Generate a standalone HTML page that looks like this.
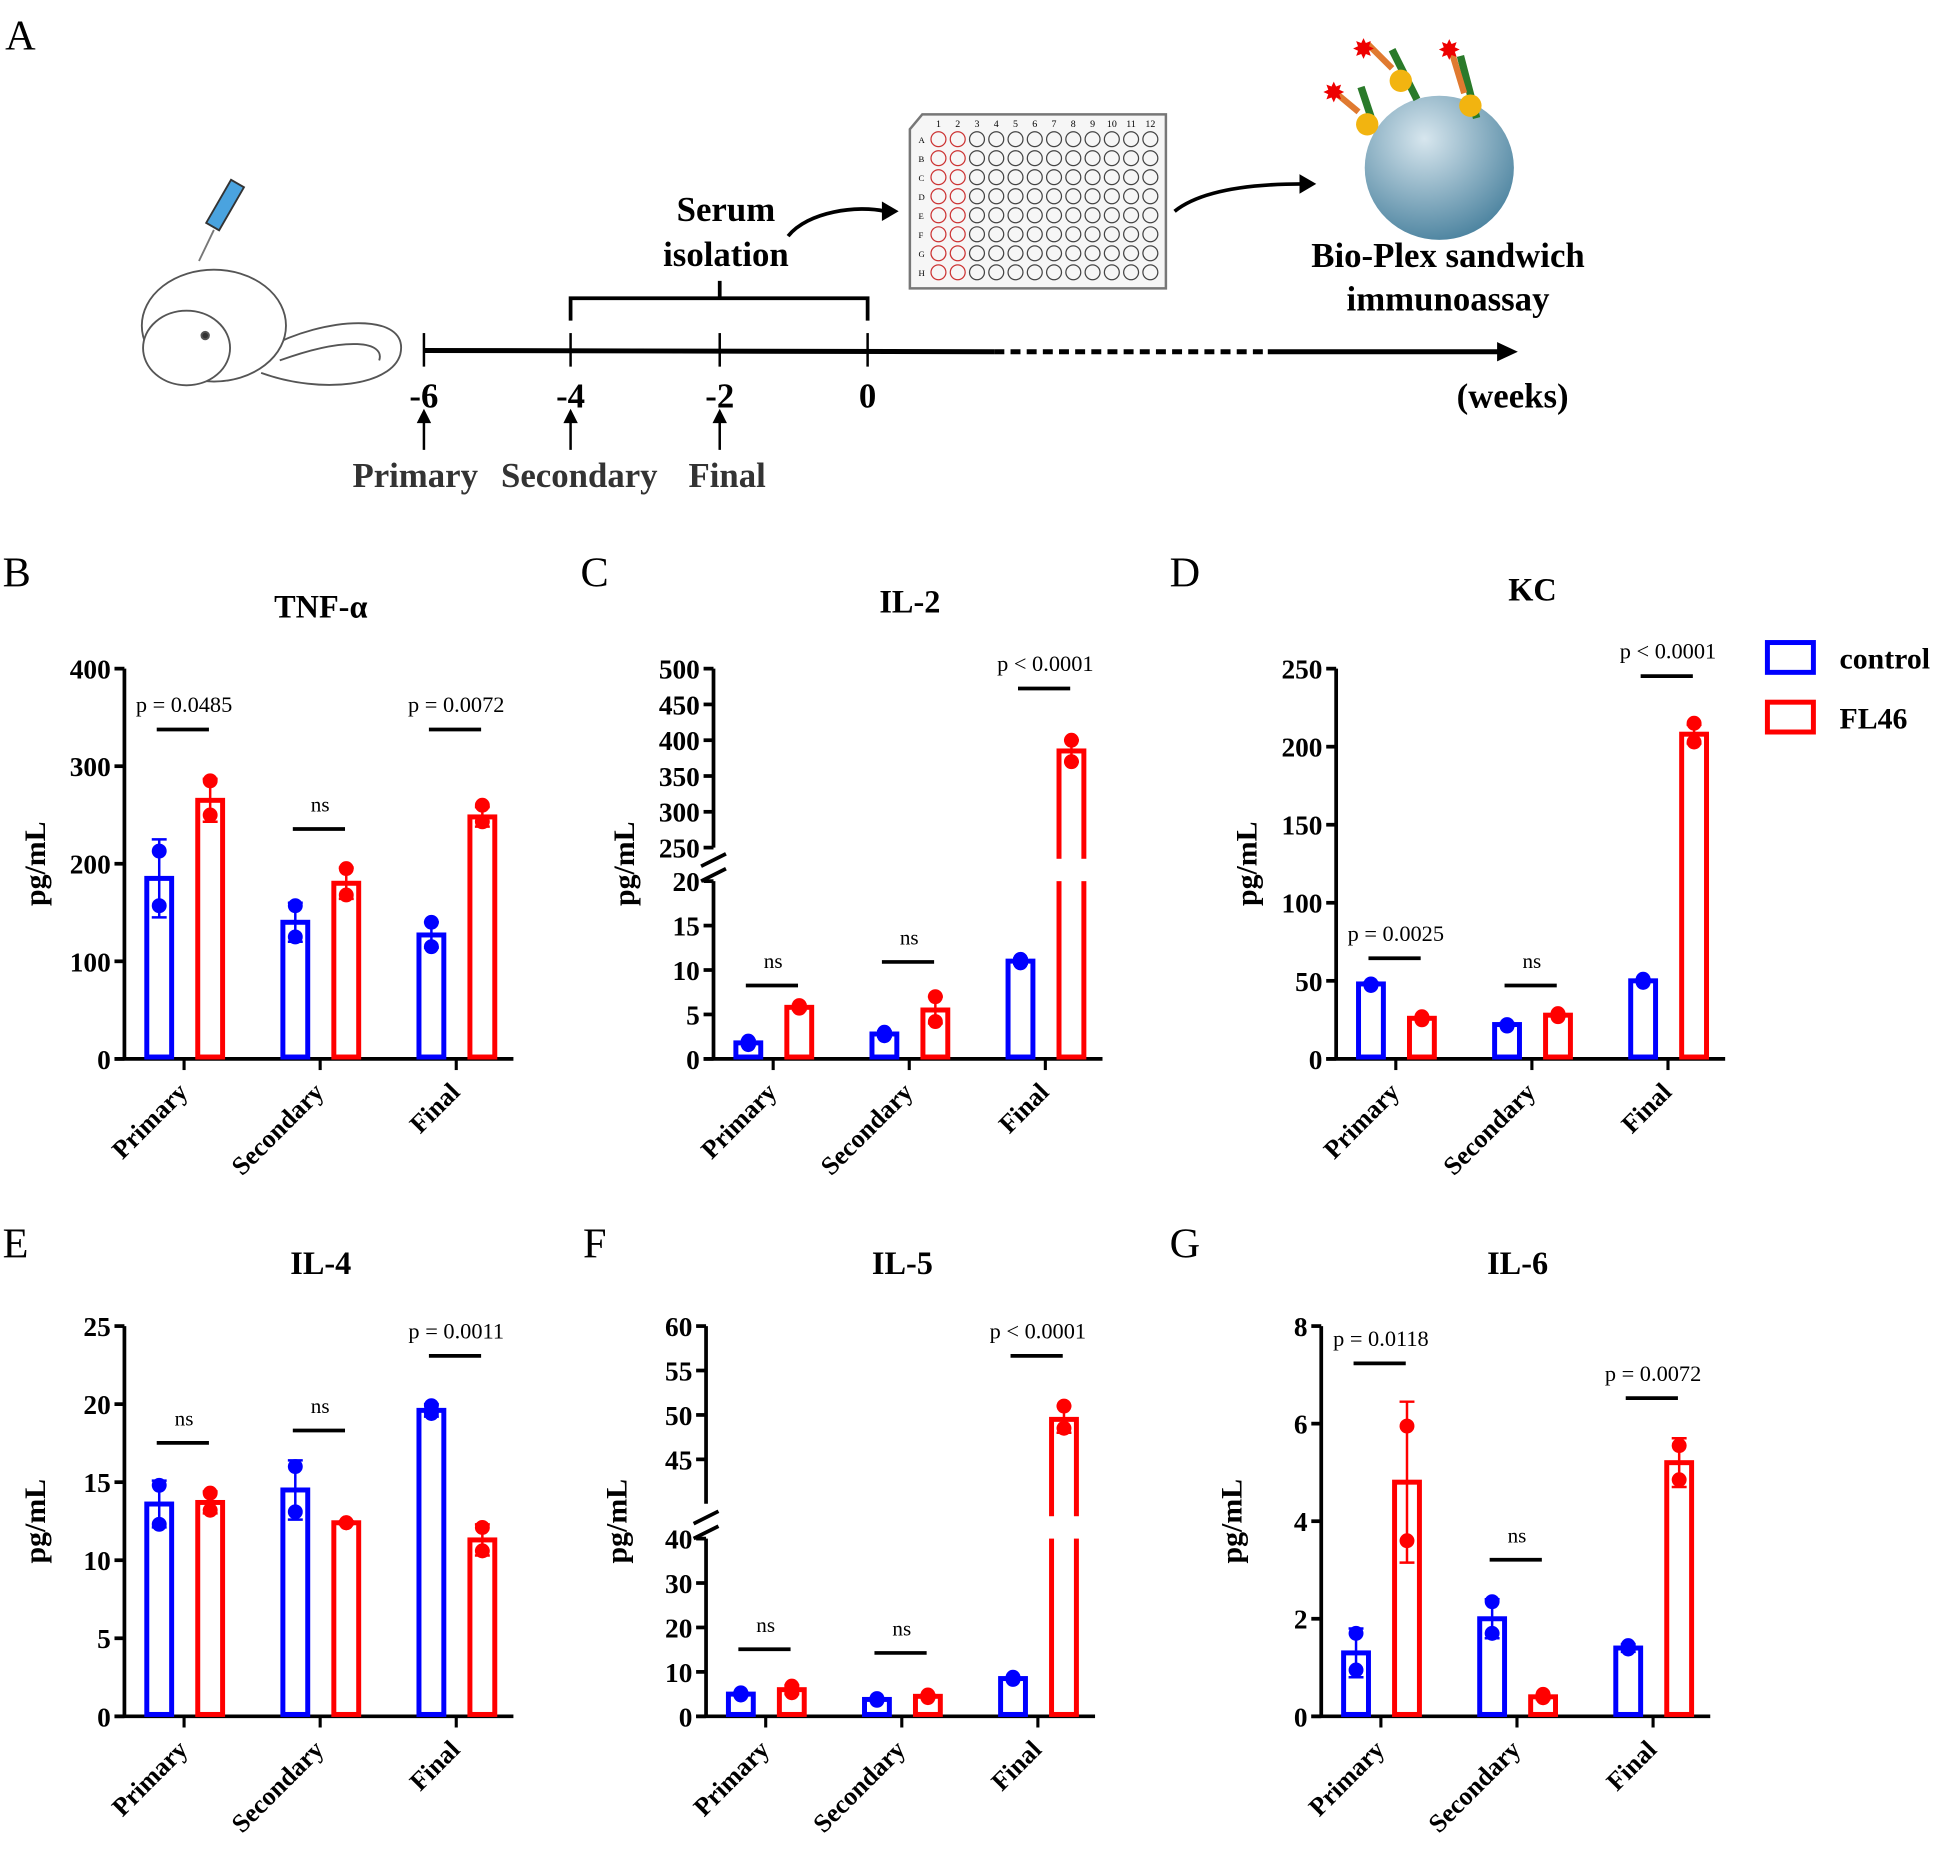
<!DOCTYPE html>
<html><head><meta charset="utf-8"><style>
html,body{margin:0;padding:0;background:#fff;}
svg{display:block;font-family:"Liberation Serif",serif;}
</style></head><body>
<svg id="fig" width="1949" height="1858" viewBox="0 0 1568 1495" xmlns="http://www.w3.org/2000/svg">
<g>
<text x="4" y="40" font-size="34">A</text>
<g fill="#fff" stroke="#555" stroke-width="1.5">
<path d="M215 280 C260 255 330 250 322 285 C315 310 260 318 210 300" fill="none"/>
<path d="M225 290 C280 270 310 275 305 290" fill="none"/>
<ellipse cx="172" cy="262" rx="58" ry="45"/>
<ellipse cx="150" cy="280" rx="35" ry="30"/>
<circle cx="165" cy="270" r="3" fill="#333"/>
<rect x="175" y="145" width="12" height="40" transform="rotate(30 181 165)" fill="#4aa3df" stroke="#333"/>
<line x1="172" y1="185" x2="160" y2="210" stroke="#777"/>
</g>
<g stroke="#000">
<line x1="341" y1="282" x2="800" y2="283" stroke-width="4"/>
<line x1="800" y1="283" x2="1020" y2="283" stroke-width="4" stroke-dasharray="8 5"/>
<line x1="1020" y1="283" x2="1208" y2="283" stroke-width="4"/>
<polygon points="1205,276 1220,283 1205,290" fill="#000"/>
<line x1="341" y1="268" x2="341" y2="295" stroke-width="2"/>
<line x1="459" y1="268" x2="459" y2="295" stroke-width="2"/>
<line x1="579" y1="268" x2="579" y2="295" stroke-width="2"/>
<line x1="698" y1="268" x2="698" y2="295" stroke-width="2"/>
<path d="M459 258 V240 H698 V258 M579 240 V226" fill="none" stroke-width="3"/>
<path d="M341 362 V332 M459 362 V332 M579 362 V332" stroke-width="2"/>
<polygon points="336,340 341,330 346,340" fill="#000"/><polygon points="454,340 459,330 464,340" fill="#000"/><polygon points="574,340 579,330 584,340" fill="#000"/>
<path d="M634 190 C650 170 690 165 712 170" fill="none" stroke-width="3"/>
<polygon points="710,163 722,170 710,177" fill="#000"/>
<path d="M945 170 C970 150 1020 148 1048 148" fill="none" stroke-width="3"/>
<polygon points="1046,141 1058,148 1046,155" fill="#000"/>
</g>
<g font-weight="bold" font-size="28" text-anchor="middle" fill="#000">
<text x="341" y="328">-6</text><text x="459" y="328">-4</text><text x="579" y="328">-2</text><text x="698" y="328">0</text>
<text x="1217" y="328">(weeks)</text>
<text x="584" y="178">Serum</text><text x="584" y="214">isolation</text>
<text x="1165" y="215">Bio-Plex sandwich</text><text x="1165" y="250">immunoassay</text>
<text x="334" y="392" fill="#333">Primary</text><text x="466" y="392" fill="#333">Secondary</text><text x="585" y="392" fill="#333">Final</text>
</g>
<g id="plate"><path d="M742 92 H938 V232 H732 V104 Z" fill="#f6f6f6" stroke="#777" stroke-width="2"/></g>
<g>
<defs><radialGradient id="bg" cx="0.4" cy="0.3" r="0.8"><stop offset="0" stop-color="#d7e6ee"/><stop offset="1" stop-color="#3f7a98"/></radialGradient></defs>
<ellipse cx="1158" cy="135" rx="60" ry="58" fill="url(#bg)"/>
<path d="M1105 100 L1095 70 M1140 80 L1120 40 M1188 95 L1175 45" stroke="#2a7a2a" stroke-width="6"/>
<circle cx="1100" cy="100" r="9" fill="#f2b410"/><circle cx="1127" cy="65" r="9" fill="#f2b410"/><circle cx="1183" cy="85" r="9" fill="#f2b410"/>
<path d="M1093 90 L1075 75 M1120 55 L1100 35 M1178 75 L1168 42" stroke="#e07a30" stroke-width="5"/>
<text x="1073" y="82" fill="#e00" font-size="22" text-anchor="middle">✸</text><text x="1097" y="47" fill="#e00" font-size="22" text-anchor="middle">✸</text><text x="1166" y="48" fill="#e00" font-size="22" text-anchor="middle">✸</text>
</g>
</g>
<g id="charts"></g>
<g>
<rect x="1422" y="517" width="37" height="24" fill="none" stroke="#00f" stroke-width="4"/>
<text x="1480" y="538" font-size="24" font-weight="bold">control</text>
<rect x="1422" y="565" width="37" height="24" fill="none" stroke="#f00" stroke-width="4"/>
<text x="1480" y="586" font-size="24" font-weight="bold">FL46</text>
</g>
</svg>
<script>
const NS="http://www.w3.org/2000/svg";
const categories=["Primary","Secondary","Final"];
const tnfCtrl=[185,140,127], tnfFl=[265,180,248];
const tnfCtrlPts=[[213,157],[157,125],[140,115]], tnfFlPts=[[285,250],[195,168],[260,243]];
const tnfCtrlErr=[40,20,13], tnfFlErr=[22,16,10];
const il2Ctrl=[1.8,2.8,11], il2Fl=[5.8,5.5,385];
const il2CtrlPts=[[2,1.6],[3,2.6],[11.2,10.8]], il2FlPts=[[6,5.7],[7,4.2],[400,370]];
const il2CtrlErr=[0.3,0.3,0.3], il2FlErr=[0.3,1.5,15];
const kcCtrl=[48,22,50], kcFl=[26,28,208];
const kcCtrlPts=[[48,47],[22,21],[51,49]], kcFlPts=[[27,25],[29,27],[215,203]];
const kcCtrlErr=[1,1,1], kcFlErr=[1,1,6];
const il4Ctrl=[13.6,14.5,19.6], il4Fl=[13.7,12.4,11.3];
const il4CtrlPts=[[14.8,12.3],[16,13.1],[19.9,19.4]], il4FlPts=[[14.3,13.2],[12.4,12.4],[12.1,10.6]];
const il4CtrlErr=[1.5,1.9,0.4], il4FlErr=[0.7,0.1,1];
const il5Ctrl=[5,3.8,8.5], il5Fl=[6,4.5,49.5];
const il5CtrlPts=[[5.3,4.8],[4,3.6],[8.8,8.3]], il5FlPts=[[6.8,5.3],[4.8,4.2],[51,48.5]];
const il5CtrlErr=[0.4,0.3,0.3], il5FlErr=[1,0.4,1.5];
const il6Ctrl=[1.3,2.0,1.4], il6Fl=[4.8,0.4,5.2];
const il6CtrlPts=[[1.7,0.95],[2.35,1.7],[1.45,1.38]], il6FlPts=[[5.95,3.6],[0.45,0.38],[5.55,4.85]];
const il6CtrlErr=[0.5,0.4,0.08], il6FlErr=[1.65,0.05,0.5];

function el(tag,attrs,parent,text){const e=document.createElementNS(NS,tag);for(const k in attrs)e.setAttribute(k,attrs[k]);if(text!==undefined)e.textContent=text;parent.appendChild(e);return e;}
const root=document.getElementById('charts');

function panel(o){
  const g=el('g',{},root);
  
  
  const lbl=el('text',{x:o.lx,y:o.ly,'font-size':34},g,o.letter);
  
  
  const t=el('text',{x:o.ax+158,y:o.titleY,'font-size':26,'font-weight':'bold','text-anchor':'middle'},g,o.title);
  
  
  const yt=el('text',{x:0,y:0,'font-size':24,'font-weight':'bold','text-anchor':'middle',transform:`translate(${o.ax-64},${o.bottom-157}) rotate(-90)`},g,'pg/mL');
  
  
  const y=o.y;
  const xa=el('line',{x1:o.ax-8,y1:o.bottom,x2:o.ax+313,y2:o.bottom,stroke:'#000','stroke-width':3},g);
  
  
  o.segments.forEach(s=>{
    const ya=el('line',{x1:o.ax,y1:y(s[0]),x2:o.ax,y2:y(s[1]),stroke:'#000','stroke-width':3},g);
    
    
  });
  if(o.breakY){el('path',{d:`M${o.ax-10} ${o.breakY+2} L${o.ax+10} ${o.breakY-8} M${o.ax-10} ${o.breakY+14} L${o.ax+10} ${o.breakY+4}`,stroke:'#000','stroke-width':3,fill:'none'},g);}
  o.ticks.forEach(v=>{
    el('line',{x1:o.ax-8,y1:y(v),x2:o.ax,y2:y(v),stroke:'#000','stroke-width':3},g);
    const tl=el('text',{x:o.ax-11,y:y(v)+8,'font-size':22,'font-weight':'bold','text-anchor':'end'},g,String(v));
    
    
  });
  categories.forEach((c,i)=>{
    const cx=o.ax+48+i*109.5;
    el('line',{x1:cx,y1:o.bottom,x2:cx,y2:o.bottom+9,stroke:'#000','stroke-width':2.5},g);
    const cl=el('text',{x:0,y:0,'font-size':21,'font-weight':'bold','text-anchor':'end',transform:`translate(${cx+4},${o.bottom+28}) rotate(-45)`},g,c);
    
    
    [[o.ctrl,o.ctrlPts,o.ctrlErr,'#00f',cx-20,'control'],[o.fl,o.flPts,o.flErr,'#f00',cx+21,'fl46']].forEach(([vals,pts,err,col,bx,nm])=>{
      const v=vals[i];
      const b=el('rect',{x:bx-10,y:y(v),width:20,height:o.bottom-y(v)-1.5,fill:'none',stroke:col,'stroke-width':4},g);
      
      
      if(o.breakY&&y(v)<o.breakY){el('rect',{x:bx-14,y:o.breakY-4,width:28,height:18,fill:'#fff'},g);}
      const e1=y(v+err[i]),e2=y(Math.max(0,v-err[i]));
      el('path',{d:`M${bx} ${e1} V${e2} M${bx-6} ${e1} H${bx+6} M${bx-6} ${e2} H${bx+6}`,stroke:col,'stroke-width':2,fill:'none'},g);
      pts[i].forEach(p=>{
        const d=el('circle',{cx:bx,cy:y(p),r:6,fill:col},g);
        
        
      });
    });
    const s=o.sig[i];
    el('line',{x1:cx-22,y1:s[1],x2:cx+20,y2:s[1],stroke:'#000','stroke-width':3},g);
    const st=el('text',{x:cx,y:s[1]-14,'font-size':s[0]=='ns'?17:18,'text-anchor':'middle'},g,s[0]);
    
    
  });
}
function lin(d0,d1,p0,p1){return v=>p0+(v-d0)/(d1-d0)*(p1-p0);}
function brk(lo,hi,bottom,loTop,gapBot,top,loMax,hiMin,hiMax){return v=> v<=loMax? lin(0,loMax,bottom,loTop)(v) : (v<hiMin? (loTop+gapBot)/2 : lin(hiMin,hiMax,gapBot,top)(v));}

panel({id:'b',letter:'B',lx:2,ly:472,title:'TNF-α',ax:100,bottom:852,titleY:497,y:lin(0,400,852,538),segments:[[0,400]],ticks:[0,100,200,300,400],
 ctrl:tnfCtrl,fl:tnfFl,ctrlPts:tnfCtrlPts,flPts:tnfFlPts,ctrlErr:tnfCtrlErr,flErr:tnfFlErr,
 sig:[['p = 0.0485',587],['ns',667],['p = 0.0072',587]]});
panel({id:'c',letter:'C',lx:467,ly:472,title:'IL-2',ax:574,bottom:852,titleY:493,y:brk(0,0,852,709,682,538,20,250,500),segments:[[0,20],[250,500]],breakY:695,ticks:[0,5,10,15,20,250,300,350,400,450,500],
 ctrl:il2Ctrl,fl:il2Fl,ctrlPts:il2CtrlPts,flPts:il2FlPts,ctrlErr:il2CtrlErr,flErr:il2FlErr,
 sig:[['ns',793],['ns',774],['p < 0.0001',554]]});
panel({id:'d',letter:'D',lx:941,ly:472,title:'KC',ax:1075,bottom:852,titleY:483,y:lin(0,250,852,538),segments:[[0,250]],ticks:[0,50,100,150,200,250],
 ctrl:kcCtrl,fl:kcFl,ctrlPts:kcCtrlPts,flPts:kcFlPts,ctrlErr:kcCtrlErr,flErr:kcFlErr,
 sig:[['p = 0.0025',771],['ns',793],['p < 0.0001',544]]});
panel({id:'e',letter:'E',lx:2,ly:1012,title:'IL-4',ax:100,bottom:1381,titleY:1025,y:lin(0,25,1381,1067),segments:[[0,25]],ticks:[0,5,10,15,20,25],
 ctrl:il4Ctrl,fl:il4Fl,ctrlPts:il4CtrlPts,flPts:il4FlPts,ctrlErr:il4CtrlErr,flErr:il4FlErr,
 sig:[['ns',1161],['ns',1151],['p = 0.0011',1091]]});
panel({id:'f',letter:'F',lx:469,ly:1012,title:'IL-5',ax:568,bottom:1381,titleY:1025,y:brk(0,0,1381,1238,1210,1067,40,40.0001,60),segments:[[0,40],[40.001,60]],breakY:1224,ticks:[0,10,20,30,40,45,50,55,60],
 ctrl:il5Ctrl,fl:il5Fl,ctrlPts:il5CtrlPts,flPts:il5FlPts,ctrlErr:il5CtrlErr,flErr:il5FlErr,
 sig:[['ns',1327],['ns',1330],['p < 0.0001',1091]]});
panel({id:'g',letter:'G',lx:941,ly:1012,title:'IL-6',ax:1063,bottom:1381,titleY:1025,y:lin(0,8,1381,1067),segments:[[0,8]],ticks:[0,2,4,6,8],
 ctrl:il6Ctrl,fl:il6Fl,ctrlPts:il6CtrlPts,flPts:il6FlPts,ctrlErr:il6CtrlErr,flErr:il6FlErr,
 sig:[['p = 0.0118',1097],['ns',1255],['p = 0.0072',1125]]});

const plate=document.getElementById('plate');
const rows=["A","B","C","D","E","F","G","H"];
for(let c=0;c<12;c++){el('text',{x:755+c*15.5,y:102,'font-size':8,'text-anchor':'middle'},plate,String(c+1));}
rows.forEach((r,ri)=>{el('text',{x:739,y:115+ri*15.3,'font-size':7},plate,r);
 for(let c=0;c<12;c++){el('circle',{cx:755+c*15.5,cy:112+ri*15.3,r:6,fill:'none',stroke:c<2?'#c33':'#444','stroke-width':1},plate);}});
</script>
</body></html>
